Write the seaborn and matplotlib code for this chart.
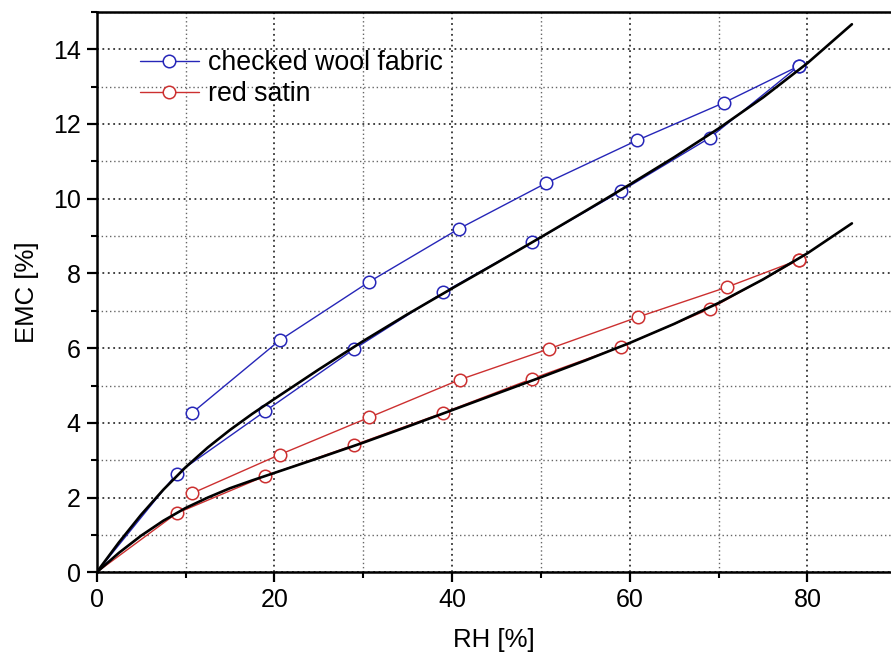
import matplotlib
matplotlib.use("Agg")
import matplotlib.pyplot as plt
import seaborn as sns
from matplotlib.ticker import MultipleLocator

# ---- data ----
wool_ads_rh = [0, 9, 19, 29, 39, 49, 59, 69, 79]
wool_ads_emc = [0, 2.64, 4.32, 5.98, 7.49, 8.83, 10.2, 11.63, 13.55]
wool_des_rh = [10.7, 20.6, 30.7, 40.8, 50.6, 60.8, 70.6, 79.1]
wool_des_emc = [4.26, 6.21, 7.78, 9.2, 10.42, 11.56, 12.57, 13.56]

satin_ads_rh = [0, 9, 19, 29, 39, 49, 59, 69, 79]
satin_ads_emc = [0, 1.58, 2.58, 3.41, 4.27, 5.18, 6.04, 7.05, 8.37]
satin_des_rh = [10.7, 20.6, 30.7, 40.9, 50.9, 60.9, 70.9, 79.1]
satin_des_emc = [2.11, 3.15, 4.15, 5.16, 5.98, 6.83, 7.63, 8.37]

fit_rh = [0, 2.5, 5, 7.5, 10, 12.5, 15, 17.5, 20, 25, 30, 35, 40, 45, 50,
          55, 60, 65, 70, 75, 80, 85]
fit_wool = [0, 0.80, 1.54, 2.21, 2.81, 3.34, 3.81, 4.24, 4.64, 5.43, 6.19,
            6.91, 7.60, 8.28, 8.97, 9.67, 10.38, 11.11, 11.88, 12.71, 13.63, 14.67]
fit_satin = [0, 0.52, 0.98, 1.38, 1.72, 2.00, 2.25, 2.46, 2.66, 3.06, 3.47,
             3.90, 4.34, 4.78, 5.22, 5.67, 6.14, 6.65, 7.21, 7.84, 8.54, 9.34]

labels = ["checked wool fabric", "red satin"]
blue = "#2626b8"
red = "#cc3030"

sns.set_style("ticks")
plt.rcParams["font.family"] = ["Liberation Sans", "DejaVu Sans"]
plt.rcParams["text.color"] = "black"
plt.rcParams["axes.labelcolor"] = "black"
plt.rcParams["xtick.color"] = "black"
plt.rcParams["ytick.color"] = "black"

fig = plt.figure(figsize=(8.91, 6.62), dpi=100)
ax = fig.add_axes([0.1085, 0.1355, 0.8915, 0.8465])

mk = dict(marker="o", markerfacecolor="white", markersize=9, markeredgewidth=1.1)

sns.lineplot(x=wool_des_rh, y=wool_des_emc, color=blue, lw=1.0, sort=False,
             label=labels[0], ax=ax, markeredgecolor=blue, **mk)
sns.lineplot(x=satin_des_rh, y=satin_des_emc, color=red, lw=1.0, sort=False,
             label=labels[1], ax=ax, markeredgecolor=red, **mk)
sns.lineplot(x=wool_ads_rh, y=wool_ads_emc, color=blue, lw=1.0, sort=False,
             ax=ax, markeredgecolor=blue, markevery=list(range(1, len(wool_ads_rh))),
             legend=False, **mk)
sns.lineplot(x=satin_ads_rh, y=satin_ads_emc, color=red, lw=1.0, sort=False,
             ax=ax, markeredgecolor=red, markevery=list(range(1, len(satin_ads_rh))),
             legend=False, **mk)
sns.lineplot(x=fit_rh, y=fit_wool, color="black", lw=1.9, sort=False, ax=ax, legend=False)
sns.lineplot(x=fit_rh, y=fit_satin, color="black", lw=1.9, sort=False, ax=ax, legend=False)

ax.set_xlim(0, 89.4)
ax.set_ylim(0, 15.0)
ax.xaxis.set_major_locator(MultipleLocator(20))
ax.xaxis.set_minor_locator(MultipleLocator(10))
ax.yaxis.set_major_locator(MultipleLocator(2))
ax.yaxis.set_minor_locator(MultipleLocator(1))

ax.grid(which="major", linestyle=(0, (1, 2)), color="#333333", lw=1.3)
ax.grid(which="minor", linestyle=(0, (1, 2)), color="#666666", lw=1.0)
ax.set_axisbelow(True)

for s in ["left", "bottom", "top"]:
    ax.spines[s].set_linewidth(1.8)
    ax.spines[s].set_color("black")
ax.spines["right"].set_visible(False)

ax.tick_params(which="major", direction="out", length=7.5, width=1.6,
               labelsize=18, pad=4, color="black", labelcolor="black",
               top=False, right=False)
ax.tick_params(which="minor", direction="out", length=4.5, width=1.5,
               color="black", top=False, right=False)

ax.set_xlabel("RH [%]", fontsize=18.5, labelpad=11, color="black")
ax.set_ylabel("EMC [%]", fontsize=18.5, labelpad=10, color="black")

leg = ax.legend(loc="upper left", bbox_to_anchor=(0.0545, 0.932), frameon=False,
                fontsize=19.3, handlelength=2.2, handletextpad=0.35,
                borderpad=0, borderaxespad=0, labelspacing=0.2)
for t in leg.get_texts():
    t.set_color("black")

fig.savefig("out.png", dpi=100)
